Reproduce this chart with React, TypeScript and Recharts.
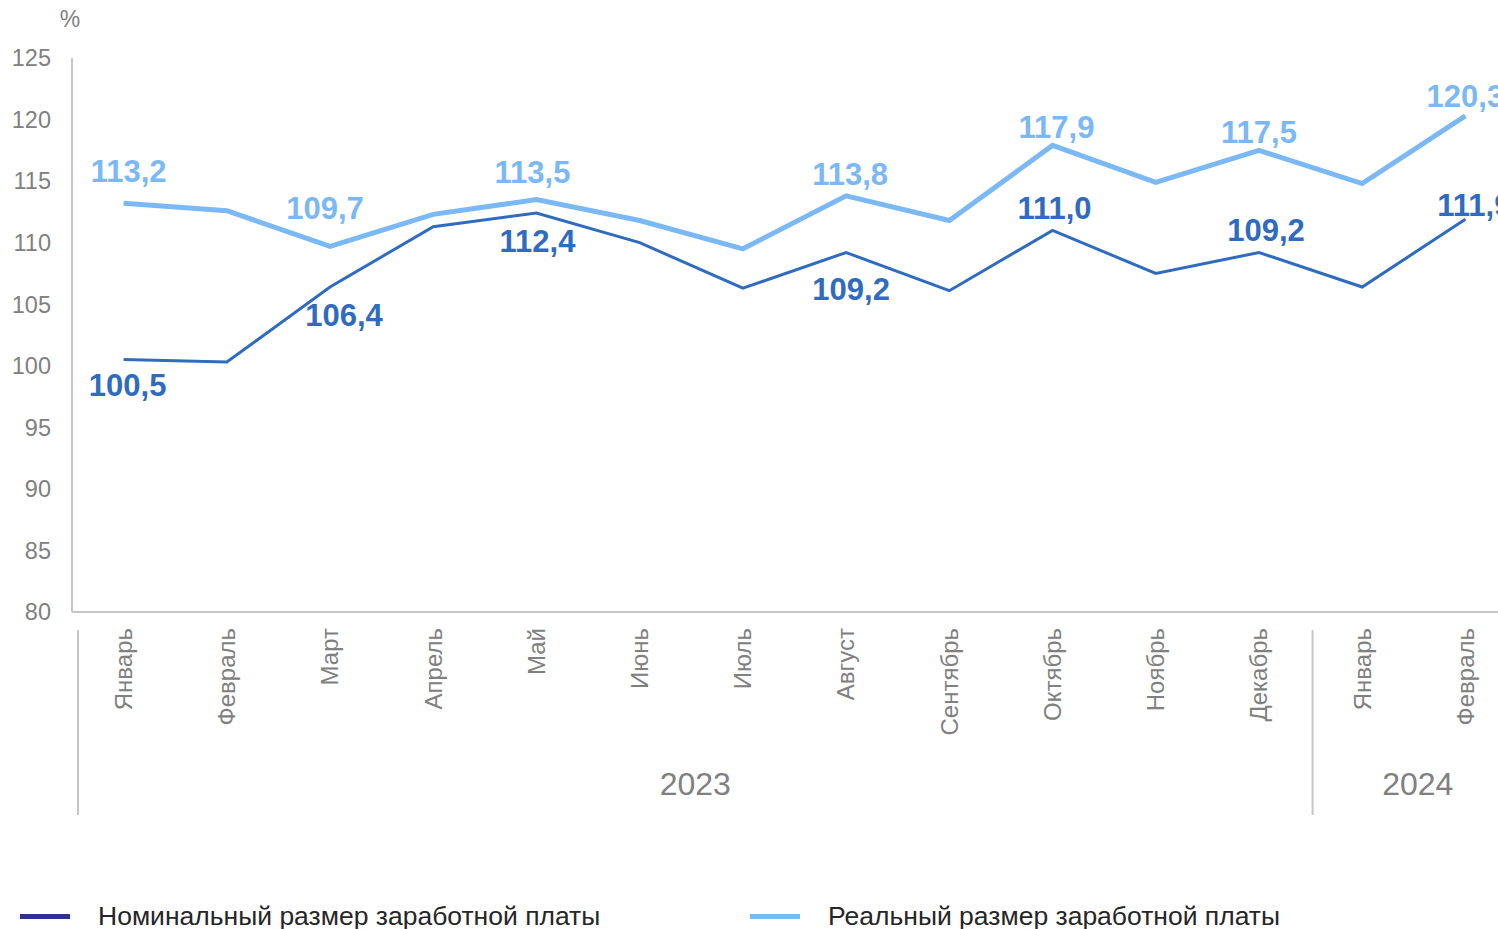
import React from "react";
import { LineChart, Line, XAxis, YAxis } from "recharts";

// categories
const months = [
  "Январь", "Февраль", "Март", "Апрель", "Май", "Июнь", "Июль",
  "Август", "Сентябрь", "Октябрь", "Ноябрь", "Декабрь", "Январь", "Февраль",
];
const years = [
  "2023", "2023", "2023", "2023", "2023", "2023", "2023",
  "2023", "2023", "2023", "2023", "2023", "2024", "2024",
];

// series, % to the same month of previous year
const nominal = [100.5, 100.3, 106.4, 111.3, 112.4, 110.0, 106.3, 109.2, 106.1, 111.0, 107.5, 109.2, 106.4, 111.9];
const real = [113.2, 112.6, 109.7, 112.3, 113.5, 111.8, 109.5, 113.8, 111.8, 117.9, 114.9, 117.5, 114.8, 120.3];

// points that carry a value label
const labeled = [0, 2, 4, 7, 9, 11, 13];

const yTicks = [80, 85, 90, 95, 100, 105, 110, 115, 120, 125];

const data = months.map((m, i) => ({
  id: `${m} ${years[i]}`,
  month: m,
  year: years[i],
  nominal: nominal[i],
  real: real[i],
}));

// layout / style
const CHART_W = 1540;
const CHART_H = 870;
const Y_W = 72;
const MARGIN = { top: 58, right: 23, bottom: 0, left: 0 };
const X_H = CHART_H - 612 - MARGIN.bottom;
const BAND = (CHART_W - MARGIN.left - MARGIN.right - Y_W) / months.length;

const NOMINAL_COLOR = "#2f6bbf";
const REAL_COLOR = "#7bb8f6";
const LEGEND_NOMINAL = "#2e3192";
const AXIS_COLOR = "#c6c6c6";
const TICK_COLOR = "#808080";
const FONT = "'Liberation Sans', Arial, sans-serif";

// label offsets from the point (dx, dy of the label centre)
const realShift: Record<number, [number, number]> = {
  0: [5, -32], 2: [-5, -39], 4: [-4, -28], 7: [4, -22], 9: [4, -19], 11: [0, -18], 13: [0, -20],
};
const nominalShift: Record<number, [number, number]> = {
  0: [4, 25], 2: [14, 28], 4: [1, 28], 7: [5, 36], 9: [2, -23], 11: [7, -23], 13: [9, -14],
};

const fmt = (v: number) => v.toFixed(1).replace(".", ",");

const makeLabelDot = (key: "nominal" | "real", color: string, shift: Record<number, [number, number]>) =>
  (props: any) => {
    const { cx, cy, index, payload } = props;
    if (!labeled.includes(index) || cx == null || cy == null) {
      return <g key={`d-${key}-${index}`} />;
    }
    const [dx, dy] = shift[index] || [0, -20];
    return (
      <text
        key={`d-${key}-${index}`}
        x={cx + dx}
        y={cy + dy}
        dy="0.36em"
        textAnchor="middle"
        fill={color}
        fontSize={31}
        fontWeight="bold"
        fontFamily={FONT}
      >
        {fmt(payload[key])}
      </text>
    );
  };

const MonthTick = (props: any) => {
  const { x, y, index } = props;
  const top = y + 8;
  const item = data[index];
  const yearStart = index === 0 || years[index] !== years[index - 1];
  let yearBlock = null;
  if (yearStart && item) {
    const count = years.filter((yy) => yy === item.year).length;
    const left = x - BAND / 2;
    const center = left + (count * BAND) / 2 + 4;
    const sepX = left + (index === 0 ? 6 : 2);
    yearBlock = (
      <g>
        <line x1={sepX} x2={sepX} y1={top + 2} y2={top + 187} stroke={AXIS_COLOR} strokeWidth={2} />
        <text
          x={center}
          y={top + 167}
          textAnchor="middle"
          fill={TICK_COLOR}
          fontSize={32}
          fontFamily={FONT}
        >
          {item.year}
        </text>
      </g>
    );
  }
  return (
    <g>
      <text
        x={x}
        y={top}
        dy="0.35em"
        textAnchor="end"
        transform={`rotate(-90, ${x}, ${top})`}
        fill={TICK_COLOR}
        fontSize={24}
        fontFamily={FONT}
      >
        {item ? item.month : ""}
      </text>
      {yearBlock}
    </g>
  );
};

const LegendItem = ({ left, color, text }: { left: number; color: string; text: string }) => (
  <div style={{ position: "absolute", left, top: 898, height: 36, display: "flex", alignItems: "center" }}>
    <div style={{ width: 50, height: 5, background: color, marginRight: 28 }} />
    <span style={{ fontFamily: FONT, fontSize: 26.5, color: "#262626", whiteSpace: "nowrap" }}>{text}</span>
  </div>
);

export default function App() {
  return (
    <div
      style={{
        position: "absolute",
        left: 0,
        top: 0,
        width: 1498,
        height: 929,
        overflow: "hidden",
        background: "#fff",
      }}
    >
      <LineChart width={CHART_W} height={CHART_H} data={data} margin={MARGIN}>
        <XAxis
          dataKey="id"
          scale="band"
          interval={0}
          height={X_H}
          tickLine={false}
          axisLine={{ stroke: AXIS_COLOR, strokeWidth: 2 }}
          tick={<MonthTick />}
        />
        <YAxis
          width={Y_W}
          domain={[80, 125]}
          ticks={yTicks}
          interval={0}
          tickLine={false}
          tickMargin={15}
          axisLine={{ stroke: AXIS_COLOR, strokeWidth: 2 }}
          tick={{ fill: TICK_COLOR, fontSize: 23.5, fontFamily: FONT }}
          label={{
            value: "%",
            position: "top",
            dx: 34,
            dy: -26,
            fill: TICK_COLOR,
            fontSize: 23,
            fontFamily: FONT,
          }}
        />
        <Line
          dataKey="real"
          stroke={REAL_COLOR}
          strokeWidth={5}
          dot={makeLabelDot("real", REAL_COLOR, realShift)}
          activeDot={false}
          isAnimationActive={false}
        />
        <Line
          dataKey="nominal"
          stroke={NOMINAL_COLOR}
          strokeWidth={3}
          dot={makeLabelDot("nominal", NOMINAL_COLOR, nominalShift)}
          activeDot={false}
          isAnimationActive={false}
        />
      </LineChart>
      <LegendItem left={20} color={LEGEND_NOMINAL} text="Номинальный размер заработной платы" />
      <LegendItem left={750} color={REAL_COLOR} text="Реальный размер заработной платы" />
    </div>
  );
}
